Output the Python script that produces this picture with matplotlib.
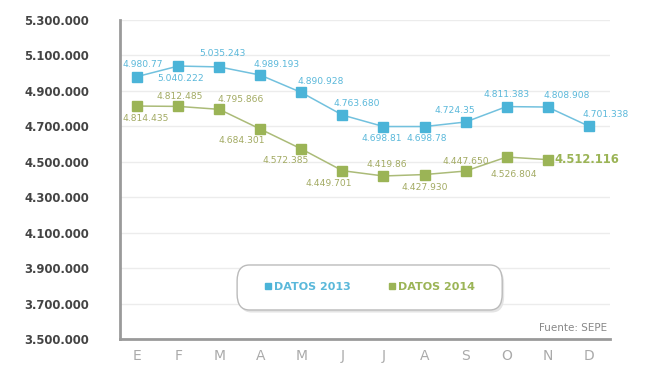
import matplotlib
matplotlib.use('Agg')

import matplotlib.pyplot as plt
from matplotlib.lines import Line2D
from matplotlib.patches import FancyBboxPatch

meses = ['E', 'F', 'M', 'A', 'M', 'J', 'J', 'A', 'S', 'O', 'N', 'D']
datos_2013 = [4980770, 5040222, 5035243, 4989193, 4890928, 4763680,
              4698810, 4698780, 4724350, 4811383, 4808908, 4701338]
datos_2014 = [4814435, 4812485, 4795866, 4684301, 4572385, 4449701,
              4419860, 4427930, 4447650, 4526804, 4512116]
etiq_2013 = ['4.980.77', '5.040.222', '5.035.243', '4.989.193', '4.890.928', '4.763.680',
             '4.698.81', '4.698.78', '4.724.35', '4.811.383', '4.808.908', '4.701.338']
etiq_2014 = ['4.814.435', '4.812.485', '4.795.866', '4.684.301', '4.572.385', '4.449.701',
             '4.419.86', '4.427.930', '4.447.650', '4.526.804', '4.512.116']
yticks = list(range(3500000, 5300001, 200000))

# label offsets in pixels (x, y up)
off_2013 = [(6, 12), (2, -12), (3, 13), (16, 11), (19, 11), (14, 12),
            (-2, -12), (2, -12), (-11, 12), (0, 12), (19, 12), (17, 12)]
off_2014 = [(8, -12), (1, 10), (21, 10), (-19, -11), (-16, -12), (-14, -13),
            (3, 11), (0, -13), (0, 10), (7, -17)]

azul = '#4bb4d8'
azul_txt = '#5ab8da'
verde = '#9bb456'
verde_txt = '#a2aa62'

fig = plt.figure(figsize=(6.6, 3.71), dpi=100)
ax = fig.add_axes([120/660, 32/371, 490/660, 319/371])

x = list(range(len(meses)))
ax.plot(x, datos_2013, color='#72c1de', lw=1.1, zorder=3)
ax.plot(x, datos_2013, ls='none', marker='s', ms=7.5, color=azul, zorder=4)
x14 = x[:len(datos_2014)]
ax.plot(x14, datos_2014, color='#abbb78', lw=1.1, zorder=3)
ax.plot(x14, datos_2014, ls='none', marker='s', ms=7.5, color=verde, zorder=4)

for i in range(len(datos_2013)):
    ax.annotate(etiq_2013[i], (x[i], datos_2013[i]), xytext=off_2013[i],
                textcoords='offset pixels', ha='center', va='center',
                fontsize=6.6, color=azul_txt)
for i in range(len(off_2014)):
    ax.annotate(etiq_2014[i], (x14[i], datos_2014[i]), xytext=off_2014[i],
                textcoords='offset pixels', ha='center', va='center',
                fontsize=6.6, color=verde_txt)
# ultimo valor destacado
ax.annotate(etiq_2014[-1], (x14[-1], datos_2014[-1]), xytext=(7, 0),
            textcoords='offset pixels', ha='left', va='center',
            fontsize=8.3, fontweight='bold', color=verde)

ax.set_xlim(-0.42, 11.52)
ax.set_ylim(3500000, 5300000)
ax.set_yticks(yticks)
ax.set_yticklabels([format(v, ',').replace(',', '.') for v in yticks],
                   fontsize=8.4, fontweight='bold', color='#444444')
ax.set_xticks(x)
ax.set_xticklabels(meses, fontsize=10, color='#aaaaaa')
ax.tick_params(axis='y', length=0, pad=22.3)
ax.tick_params(axis='x', length=0, pad=7)
ax.grid(axis='y', color='#ececec', lw=1)
ax.set_axisbelow(True)
for s in ['top', 'right']:
    ax.spines[s].set_visible(False)
for s in ['left', 'bottom']:
    ax.spines[s].set_color('#9a9a9a')
    ax.spines[s].set_linewidth(2)

ax.text(0.995, 0.02, 'Fuente: SEPE', transform=ax.transAxes, ha='right',
        va='bottom', fontsize=7.5, color='#888888')

# caja de la leyenda
sombra = FancyBboxPatch((0.243, 0.083), 0.541, 0.141, transform=ax.transAxes,
                        boxstyle='round,pad=0,rounding_size=0.025',
                        fc='#e4e4e4', ec='none', zorder=5, mutation_aspect=2.0)
ax.add_patch(sombra)
caja = FancyBboxPatch((0.239, 0.091), 0.541, 0.141, transform=ax.transAxes,
                      boxstyle='round,pad=0,rounding_size=0.025',
                      fc='white', ec='#bbbbbb', lw=1, zorder=6, mutation_aspect=2.0)
ax.add_patch(caja)

handles = [Line2D([], [], ls='none', marker='s', ms=5, color=azul),
           Line2D([], [], ls='none', marker='s', ms=5, color=verde)]
leg = ax.legend(handles, ['DATOS 2013', 'DATOS 2014'], ncol=2, loc='center',
                bbox_to_anchor=(0.507, 0.162), frameon=False,
                prop={'size': 8, 'weight': 'bold'}, handletextpad=0.05,
                handlelength=1.0, columnspacing=3.2, borderaxespad=0)
leg.texts[0].set_color(azul_txt)
leg.texts[1].set_color(verde)
leg.set_zorder(7)

plt.savefig('out.png', dpi=100)
plt.close()
